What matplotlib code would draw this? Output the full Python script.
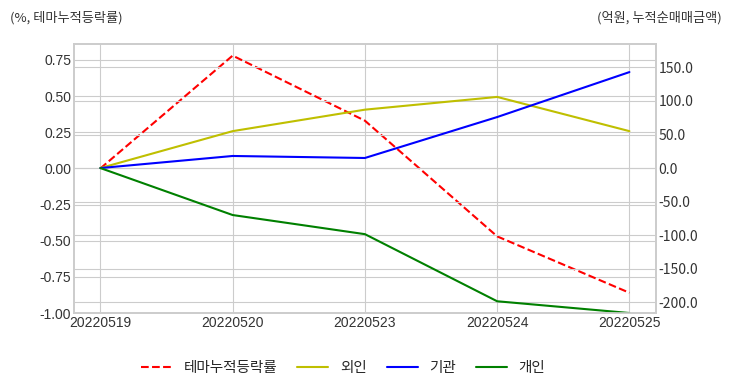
import numpy as np
import matplotlib
matplotlib.use('Agg')
from matplotlib import pyplot as plt

plt.style.use('seaborn-v0_8-whitegrid')
plt.rcParams['font.family'] = ['Noto Sans CJK KR', 'DejaVu Sans']
plt.rcParams['axes.unicode_minus'] = False

dates = ['20220519', '20220520', '20220523', '20220524', '20220525']
theme = [0.0, 0.78, 0.33, -0.47, -0.86]
foreign = [0.0, 55.0, 87.0, 106.0, 55.0]
inst = [0.0, 18.0, 15.0, 76.0, 143.0]
indiv = [0.0, -70.0, -98.5, -198.5, -216.0]

fig = plt.figure(figsize=(7.32, 3.92), dpi=100)
ax = fig.add_axes([0.101, 0.2015, 0.795, 0.6865])
ax2 = ax.twinx()

x = np.arange(len(dates))
l1, = ax.plot(x, theme, color='r', linestyle='--', linewidth=1.5, label='테마누적등락률')
l2, = ax2.plot(x, foreign, color='y', linewidth=1.5, label='외인')
l3, = ax2.plot(x, inst, color='b', linewidth=1.5, label='기관')
l4, = ax2.plot(x, indiv, color='g', linewidth=1.5, label='개인')

ax.set_xlim(-0.2, 4.2)
ax.set_xticks(x)
ax.set_xticklabels(dates, family=['Liberation Sans', 'DejaVu Sans'])
lt = [-1.0, -0.75, -0.5, -0.25, 0.0, 0.25, 0.5, 0.75]
ax.set_ylim(-1.0, 0.861)
ax.set_yticks(lt)
ax.set_yticklabels(['%.2f' % v for v in lt], family=['Liberation Sans', 'DejaVu Sans'])
ax.tick_params(axis='both', labelsize=10, colors='#333333', pad=2)

ax2.set_ylim(-216, 185)
rt = [-200, -150, -100, -50, 0, 50, 100, 150]
ax2.set_yticks(rt)
ax2.set_yticklabels(['%.1f' % v for v in rt])
ax2.tick_params(axis='y', labelsize=10, colors='#333333', pad=2)
ax2.grid(True, color='#cccccc')

for a in (ax, ax2):
    for s in a.spines.values():
        s.set_color('#cccccc')
        s.set_linewidth(1.2)

fig.text(0.014, 0.955, '(%, 테마누적등락률)', fontsize=9.5, color='#333333', va='center')
fig.text(0.986, 0.955, '(억원, 누적순매매금액)', fontsize=9.5, color='#333333', va='center', ha='right')

fig.legend(handles=[l1, l2, l3, l4], loc='center', bbox_to_anchor=(0.469, 0.06),
           ncol=4, frameon=False, fontsize=10.5, columnspacing=1.4,
           handlelength=2.1, handletextpad=0.8)

fig.savefig('out.png', dpi=100)
